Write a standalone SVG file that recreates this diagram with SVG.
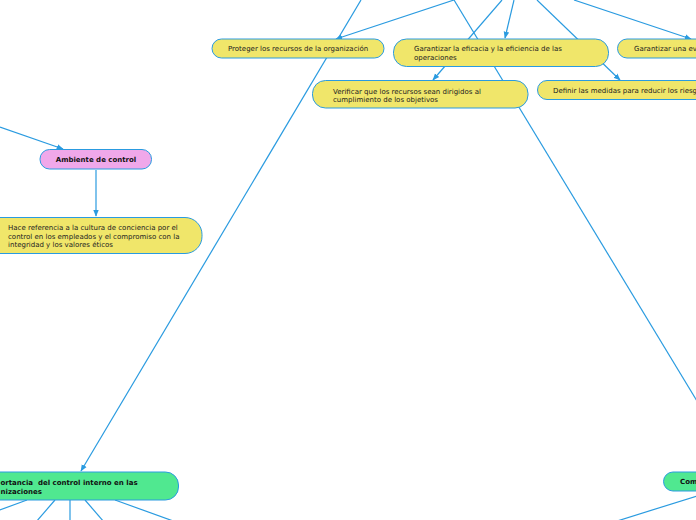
<svg xmlns="http://www.w3.org/2000/svg" width="696" height="520" viewBox="0 0 696 520">
<style>
.c{fill:none;stroke:#2a9be0;stroke-width:1.2}
.y{fill:#f0e66a;stroke:#2a9be0;stroke-width:1}
.p{fill:#f0a8ea;stroke:#2a9be0;stroke-width:1}
.g{fill:#50e890;stroke:#2a9be0;stroke-width:1}
text{font-family:"DejaVu Sans",Verdana,sans-serif;font-size:7px;fill:#222}
.b{font-weight:bold;fill:#111}
</style>
<defs>
<marker id="a" viewBox="0 0 10 10" refX="9" refY="5" markerWidth="7" markerHeight="7" markerUnits="userSpaceOnUse" orient="auto">
<path d="M0,1 L10,5 L0,9 z" fill="#2a9be0"/>
</marker>
</defs>
<rect width="696" height="520" fill="#fff"/>
<g id="connectors">
<line class="c" x1="361" y1="0" x2="81" y2="471" marker-end="url(#a)"/>
<line class="c" x1="454" y1="0" x2="336" y2="39" marker-end="url(#a)"/>
<line class="c" x1="454" y1="0" x2="740" y2="472"/>
<line class="c" x1="502" y1="0" x2="433" y2="80" marker-end="url(#a)"/>
<line class="c" x1="514" y1="0" x2="505" y2="38" marker-end="url(#a)"/>
<line class="c" x1="537" y1="0" x2="620" y2="80" marker-end="url(#a)"/>
<line class="c" x1="574" y1="0" x2="691" y2="39" marker-end="url(#a)"/>
<line class="c" x1="0" y1="127" x2="63" y2="149" marker-end="url(#a)"/>
<line class="c" x1="96" y1="170" x2="96" y2="216" marker-end="url(#a)"/>
<line class="c" x1="27" y1="500" x2="-3" y2="511"/>
<line class="c" x1="55" y1="500" x2="36" y2="522"/>
<line class="c" x1="70" y1="500" x2="70" y2="522"/>
<line class="c" x1="85" y1="500" x2="104" y2="522"/>
<line class="c" x1="115" y1="500" x2="176" y2="522"/>
<line class="c" x1="700" y1="495" x2="614" y2="522"/>
</g>
<g id="n-proteger">
<rect class="y" x="212" y="39" width="172" height="19" rx="9.5"/>
<text x="228" y="51">Proteger los recursos de la organización</text>
</g>
<g id="n-eficacia">
<rect class="y" x="393.5" y="39" width="215" height="27.5" rx="13"/>
<text x="414" y="50.5">Garantizar la eficacia y la eficiencia de las</text>
<text x="414" y="59.5">operaciones</text>
</g>
<g id="n-evaluacion">
<rect class="y" x="617.5" y="39" width="100" height="19" rx="9.5"/>
<text x="634" y="51">Garantizar una ev</text>
</g>
<g id="n-verificar">
<rect class="y" x="312.5" y="80.5" width="215.5" height="27.5" rx="13"/>
<text x="333" y="93.5">Verificar que los recursos sean dirigidos al</text>
<text x="333" y="102">cumplimiento de los objetivos</text>
</g>
<g id="n-definir">
<rect class="y" x="537.5" y="80.5" width="180" height="19" rx="9.5"/>
<text x="553" y="93">Definir las medidas para reducir los riesg</text>
</g>
<g id="n-ambiente">
<rect class="p" x="40" y="149.5" width="111.5" height="19.5" rx="9.5"/>
<text class="b" x="96" y="162" text-anchor="middle">Ambiente de control</text>
</g>
<g id="n-hace">
<rect class="y" x="-20" y="217.5" width="222" height="36" rx="17"/>
<text x="8" y="230">Hace referencia a la cultura de conciencia por el</text>
<text x="8" y="238.5">control en los empleados y el compromiso con la</text>
<text x="8" y="247">integridad y los valores éticos</text>
</g>
<g id="n-importancia">
<rect class="g" x="-40" y="472" width="218.5" height="28" rx="13"/>
<text class="b" x="0.5" y="484.5">ortancia&#160; del control interno en las</text>
<text class="b" x="0.5" y="493.5">nizaciones</text>
</g>
<g id="n-com">
<rect class="g" x="663.5" y="472" width="80" height="19" rx="9.5"/>
<text class="b" x="680" y="484">Com</text>
</g>
</svg>
